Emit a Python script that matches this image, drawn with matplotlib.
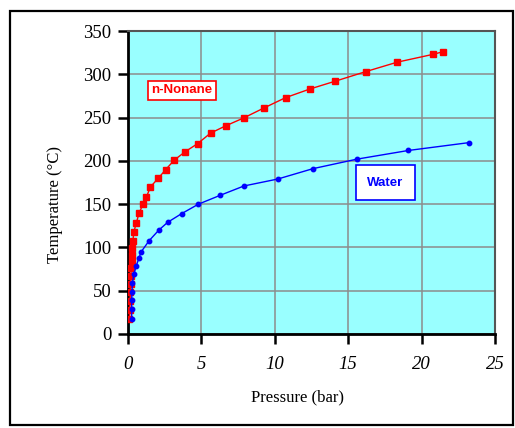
import matplotlib
matplotlib.use("Agg")
import matplotlib.pyplot as plt
from matplotlib.patches import Rectangle

# vapour pressure curves
water_p = [0.25, 0.25, 0.25, 0.27, 0.3, 0.4, 0.55, 0.75, 0.9, 1.45, 2.1, 2.7,
           3.65, 4.8, 6.25, 7.9, 10.2, 12.6, 15.6, 19.1, 23.2]
water_t = [17, 29, 39, 48, 59, 69, 78, 88, 95, 108, 120, 129,
           139, 150, 160, 171, 179, 191, 202, 212, 221]

nonane_p = [0.1, 0.12, 0.14, 0.16, 0.18, 0.2, 0.22, 0.25, 0.27, 0.3, 0.33, 0.4,
            0.57, 0.75, 1.02, 1.25, 1.53, 2.07, 2.57, 3.16, 3.89, 4.75, 5.62,
            6.66, 7.87, 9.25, 10.73, 12.39, 14.11, 16.18, 18.34, 20.77, 21.45]
nonane_t = [17, 28, 38, 48, 58, 67, 76, 84, 91, 99, 107, 118,
            128.5, 139.4, 150, 158, 170, 180, 190, 201, 210.5, 220, 232,
            240.5, 249.5, 261, 273, 283, 292, 303, 314, 323, 326]

x_ticks = [0, 5, 10, 15, 20, 25]
y_ticks = [0, 50, 100, 150, 200, 250, 300, 350]

serif = "Liberation Serif"
sans = "Liberation Sans"

fig = plt.figure(figsize=(5.15, 4.28), dpi=100)
# outer frame around the whole chart
fig.patches.append(Rectangle((10 / 515, 3 / 428), 503 / 515, 414 / 428,
                             transform=fig.transFigure, fill=False,
                             edgecolor="black", linewidth=1.6))

ax = fig.add_axes([128 / 515, 1 - 334 / 428, 367 / 515, 303 / 428])
ax.set_facecolor("#99FFFF")
ax.set_xlim(0, 25)
ax.set_ylim(0, 350)
ax.set_xticks(x_ticks)
ax.set_yticks(y_ticks)
ax.grid(True, color="#8c8c8c", linewidth=1.1)
ax.set_axisbelow(True)

ax.plot(nonane_p, nonane_t, color="#FF0000", linewidth=1.0, marker="s",
        markersize=5, zorder=3)
ax.plot(water_p, water_t, color="#0000FF", linewidth=1.0, marker="o",
        markersize=3.2, zorder=4)

ax.text(3.66, 281.5, "n-Nonane", color="#FF0000", fontsize=9.5,
        fontweight="bold", family=sans, ha="center", va="center",
        bbox=dict(boxstyle="square,pad=0.25", facecolor="white",
                  edgecolor="#FF0000", linewidth=1.2))
ax.text(17.53, 175, "Water", color="#0000FF", fontsize=9.5,
        fontweight="bold", family=sans, ha="center", va="center",
        bbox=dict(boxstyle="square,pad=0.85", facecolor="white",
                  edgecolor="#0000FF", linewidth=1.2))

for side in ["left", "bottom"]:
    ax.spines[side].set_linewidth(2.0)
    ax.spines[side].set_color("black")
for side in ["top", "right"]:
    ax.spines[side].set_linewidth(1.5)
    ax.spines[side].set_color("#555555")

ax.tick_params(axis="both", direction="out", length=7, width=1.8,
               colors="black", labelsize=13.5)
ax.tick_params(axis="y", pad=5)
ax.tick_params(axis="x", pad=9)
for lab in ax.get_yticklabels():
    lab.set_family(serif)
for lab in ax.get_xticklabels():
    lab.set_family(serif)
    lab.set_style("italic")

ax.set_xlabel("Pressure (bar)", family=serif, fontsize=12)
ax.set_ylabel("Temperature (°C)", family=serif, fontsize=12)
ax.xaxis.set_label_coords(0.461, -0.182)
ax.yaxis.set_label_coords(-0.177, 0.429)

fig.savefig("out.png", dpi=100)
